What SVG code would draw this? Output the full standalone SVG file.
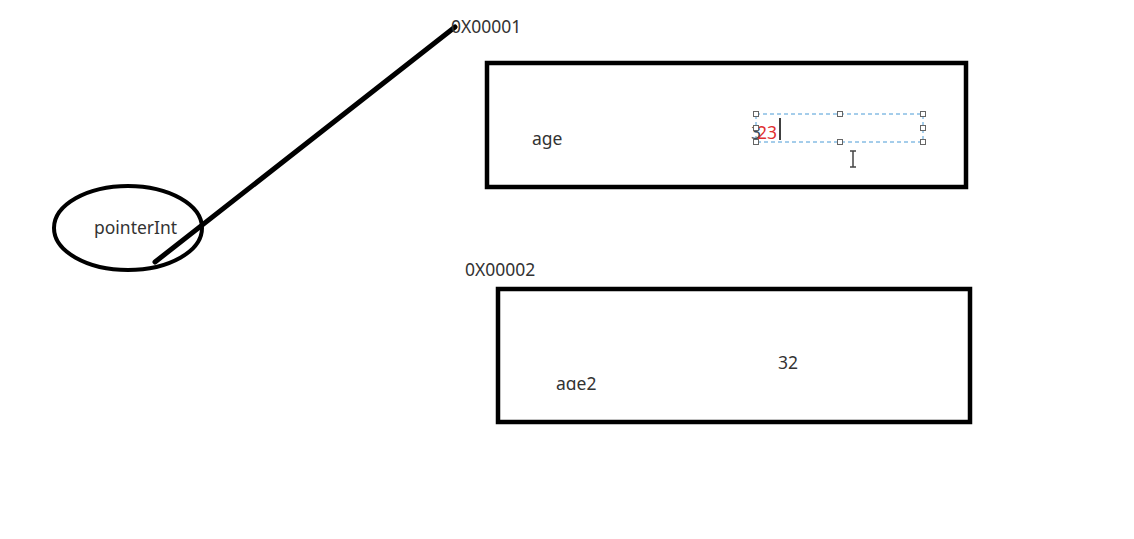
<svg xmlns="http://www.w3.org/2000/svg" width="1134" height="539" viewBox="0 0 1134 539">
<style>
.t{font-family:"Noto Sans","Open Sans",sans-serif;font-size:17.5px;fill:#333}
.box{fill:none;stroke:#000;stroke-width:4.5}
.h{fill:#fff;stroke:#666;stroke-width:1}
</style>
<defs>
<clipPath id="c2"><rect x="540" y="360" width="100" height="30"/></clipPath>
</defs>
<rect width="1134" height="539" fill="#fff"/>
<g id="connectors">
<line x1="155" y1="262" x2="455" y2="27" stroke="#000" stroke-width="5" stroke-linecap="round"/>
</g>
<g id="pointerInt">
<ellipse cx="128" cy="228" rx="74" ry="42" fill="none" stroke="#000" stroke-width="4"/>
<text class="t" x="94" y="234">pointerInt</text>
</g>
<g id="addr1"><text class="t" x="451" y="33">0X00001</text></g>
<g id="age">
<rect class="box" x="487" y="63" width="479" height="124"/>
<text class="t" x="532" y="145">age</text>
<rect x="756" y="114" width="167" height="28" fill="none" stroke="#4a9bd6" stroke-width="1" stroke-dasharray="4,3"/>
<text class="t" x="751" y="139"><tspan style="fill:#3a4a5a">3</tspan><tspan dx="-4" style="fill:#e03030">23</tspan></text>
<line x1="780" y1="118" x2="780" y2="140" stroke="#000" stroke-width="1.5"/>
<g>
<rect class="h" x="753.5" y="111.5" width="5" height="5"/>
<rect class="h" x="837.5" y="111.5" width="5" height="5"/>
<rect class="h" x="920.5" y="111.5" width="5" height="5"/>
<rect class="h" x="753.5" y="125.5" width="5" height="5"/>
<rect class="h" x="920.5" y="125.5" width="5" height="5"/>
<rect class="h" x="753.5" y="139.5" width="5" height="5"/>
<rect class="h" x="837.5" y="139.5" width="5" height="5"/>
<rect class="h" x="920.5" y="139.5" width="5" height="5"/>
</g>
<path d="M850 151h6M853 151v16M850 167h6" fill="none" stroke="#444" stroke-width="1.5"/>
</g>
<g id="addr2"><text class="t" x="465" y="276">0X00002</text></g>
<g id="age2">
<rect class="box" x="498" y="289" width="472" height="133"/>
<text class="t" x="778" y="369">32</text>
<text class="t" x="556" y="390" clip-path="url(#c2)">age2</text>
</g>
</svg>
